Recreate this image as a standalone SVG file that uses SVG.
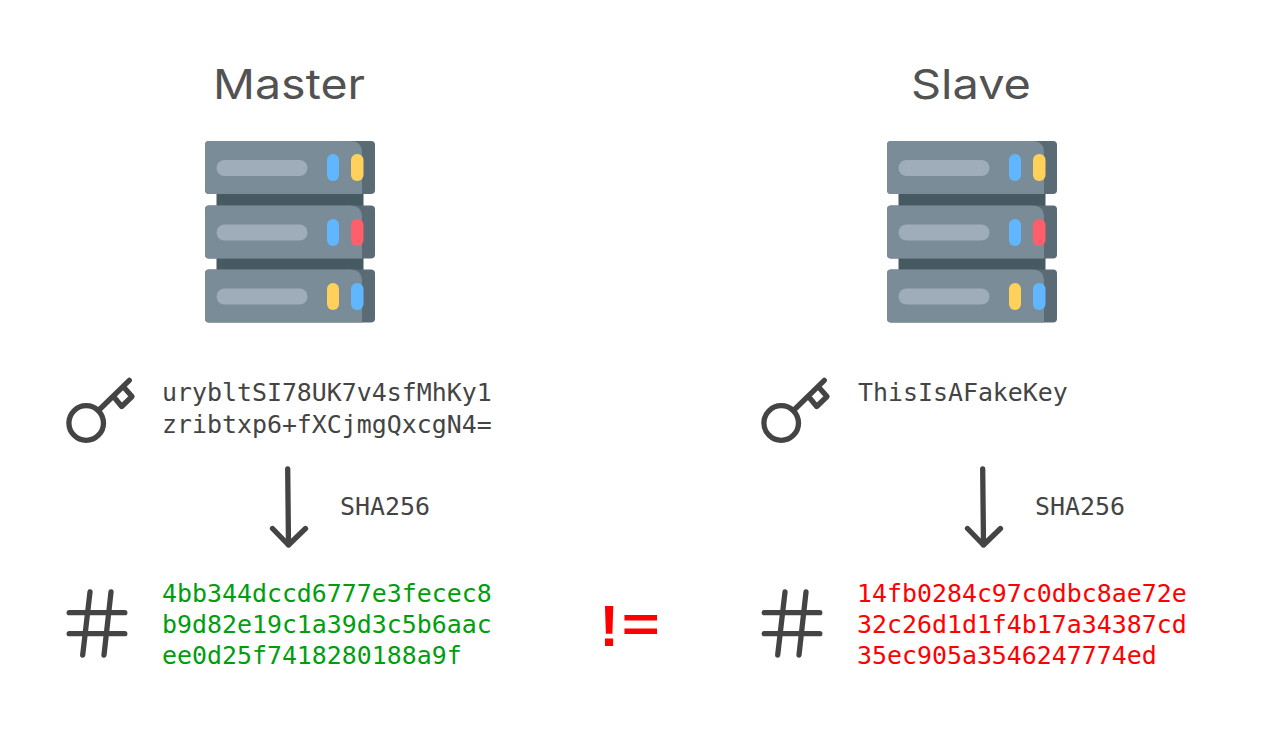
<svg xmlns="http://www.w3.org/2000/svg" xmlns:xlink="http://www.w3.org/1999/xlink" width="1262" height="737" viewBox="0 0 1262 737">
<style>
.h{font-family:"Inter","Noto Sans",sans-serif;font-size:41px;fill:#525252}
.m{font-family:"DejaVu Sans Mono","Liberation Mono",monospace;font-size:24.9px;fill:#444}
.g{fill:#009e0f}.r{fill:#f00}
.ln{fill:none;stroke:#444;stroke-width:5.300;stroke-linecap:round;stroke-linejoin:round}
.ne{font-family:"Liberation Sans",sans-serif;font-weight:700;fill:#f00}
</style>
<defs>
<g id="unit">
<rect x="205" y="0" width="170" height="53" rx="4" fill="#5b6b75"/>
<path d="M209 0H350q12 0 12 12V53H209q-4 0-4-4V4q0-4 4-4z" fill="#7a8c98"/>
<rect x="216.500" y="19" width="91" height="16" rx="8" fill="#9facba"/>
</g>
<g id="server">
<rect x="216.500" y="194" width="147" height="76" fill="#465a61"/>
<use xlink:href="#unit" y="141"/>
<use xlink:href="#unit" y="205.500"/>
<use xlink:href="#unit" y="269.500"/>
<rect x="327" y="154" width="12" height="27" rx="6" fill="#60b7ff"/>
<rect x="351" y="154" width="12.500" height="27" rx="6" fill="#ffd15b"/>
<rect x="327" y="219" width="12" height="27" rx="6" fill="#60b7ff"/>
<rect x="351" y="219" width="12.500" height="27" rx="6" fill="#ff5f6b"/>
<rect x="327" y="283" width="12" height="27" rx="6" fill="#ffd15b"/>
<rect x="351" y="283" width="12.500" height="27" rx="6" fill="#60b7ff"/>
</g>
<g id="key" class="ln">
<circle cx="86.200" cy="423" r="17.300"/>
<path d="M99.500 409.500L129.300 380.300M113.500 396.500L121.700 406.500L132 396.500L124 387.500"/>
</g>
<g id="hash" class="ln">
<path d="M69.200 612.700H124.800M69.200 633.700H124.800M90 592L82.700 655M111 592L104 655"/>
</g>
</defs>
<text class="h" x="213" y="99" textLength="152" lengthAdjust="spacingAndGlyphs">Master</text>
<text class="h" x="911" y="99" textLength="120" lengthAdjust="spacingAndGlyphs">Slave</text>
<g id="master-server"><use xlink:href="#server"/></g>
<g id="slave-server"><use xlink:href="#server" x="682"/></g>
<g id="master-key"><use xlink:href="#key"/>
<text class="m" x="162" y="401">urybltSI78UK7v4sfMhKy1</text>
<text class="m" x="162" y="432.500">zribtxp6+fXCjmgQxcgN4=</text></g>
<g id="slave-key"><use xlink:href="#key" x="695"/>
<text class="m" x="858" y="401">ThisIsAFakeKey</text></g>
<g id="master-hash"><use xlink:href="#hash"/>
<text class="m g" x="162" y="601.500">4bb344dccd6777e3fecec8</text>
<text class="m g" x="162" y="632.500">b9d82e19c1a39d3c5b6aac</text>
<text class="m g" x="162" y="663.500">ee0d25f7418280188a9f</text></g>
<g id="slave-hash"><use xlink:href="#hash" x="695"/>
<text class="m r" x="857" y="601.500">14fb0284c97c0dbc8ae72e</text>
<text class="m r" x="857" y="632.500">32c26d1d1f4b17a34387cd</text>
<text class="m r" x="857" y="663.500">35ec905a3546247774ed</text></g>
<g id="not-equal"><text class="ne" font-size="58" x="599.500" y="645.500">!</text>
<text class="ne" font-size="65" transform="translate(621.700 641.600) scale(1 .78)">=</text></g>
<g id="connectors">
<path class="ln" d="M287.700 469L288.500 545M272.500 528.500L288.500 545L305.500 528.500"/>
<path class="ln" d="M982.700 469L983.500 545M967.500 528.500L983.500 545L1000.500 528.500"/>
</g>
<text class="m" x="340" y="515">SHA256</text>
<text class="m" x="1035" y="515">SHA256</text>
</svg>
